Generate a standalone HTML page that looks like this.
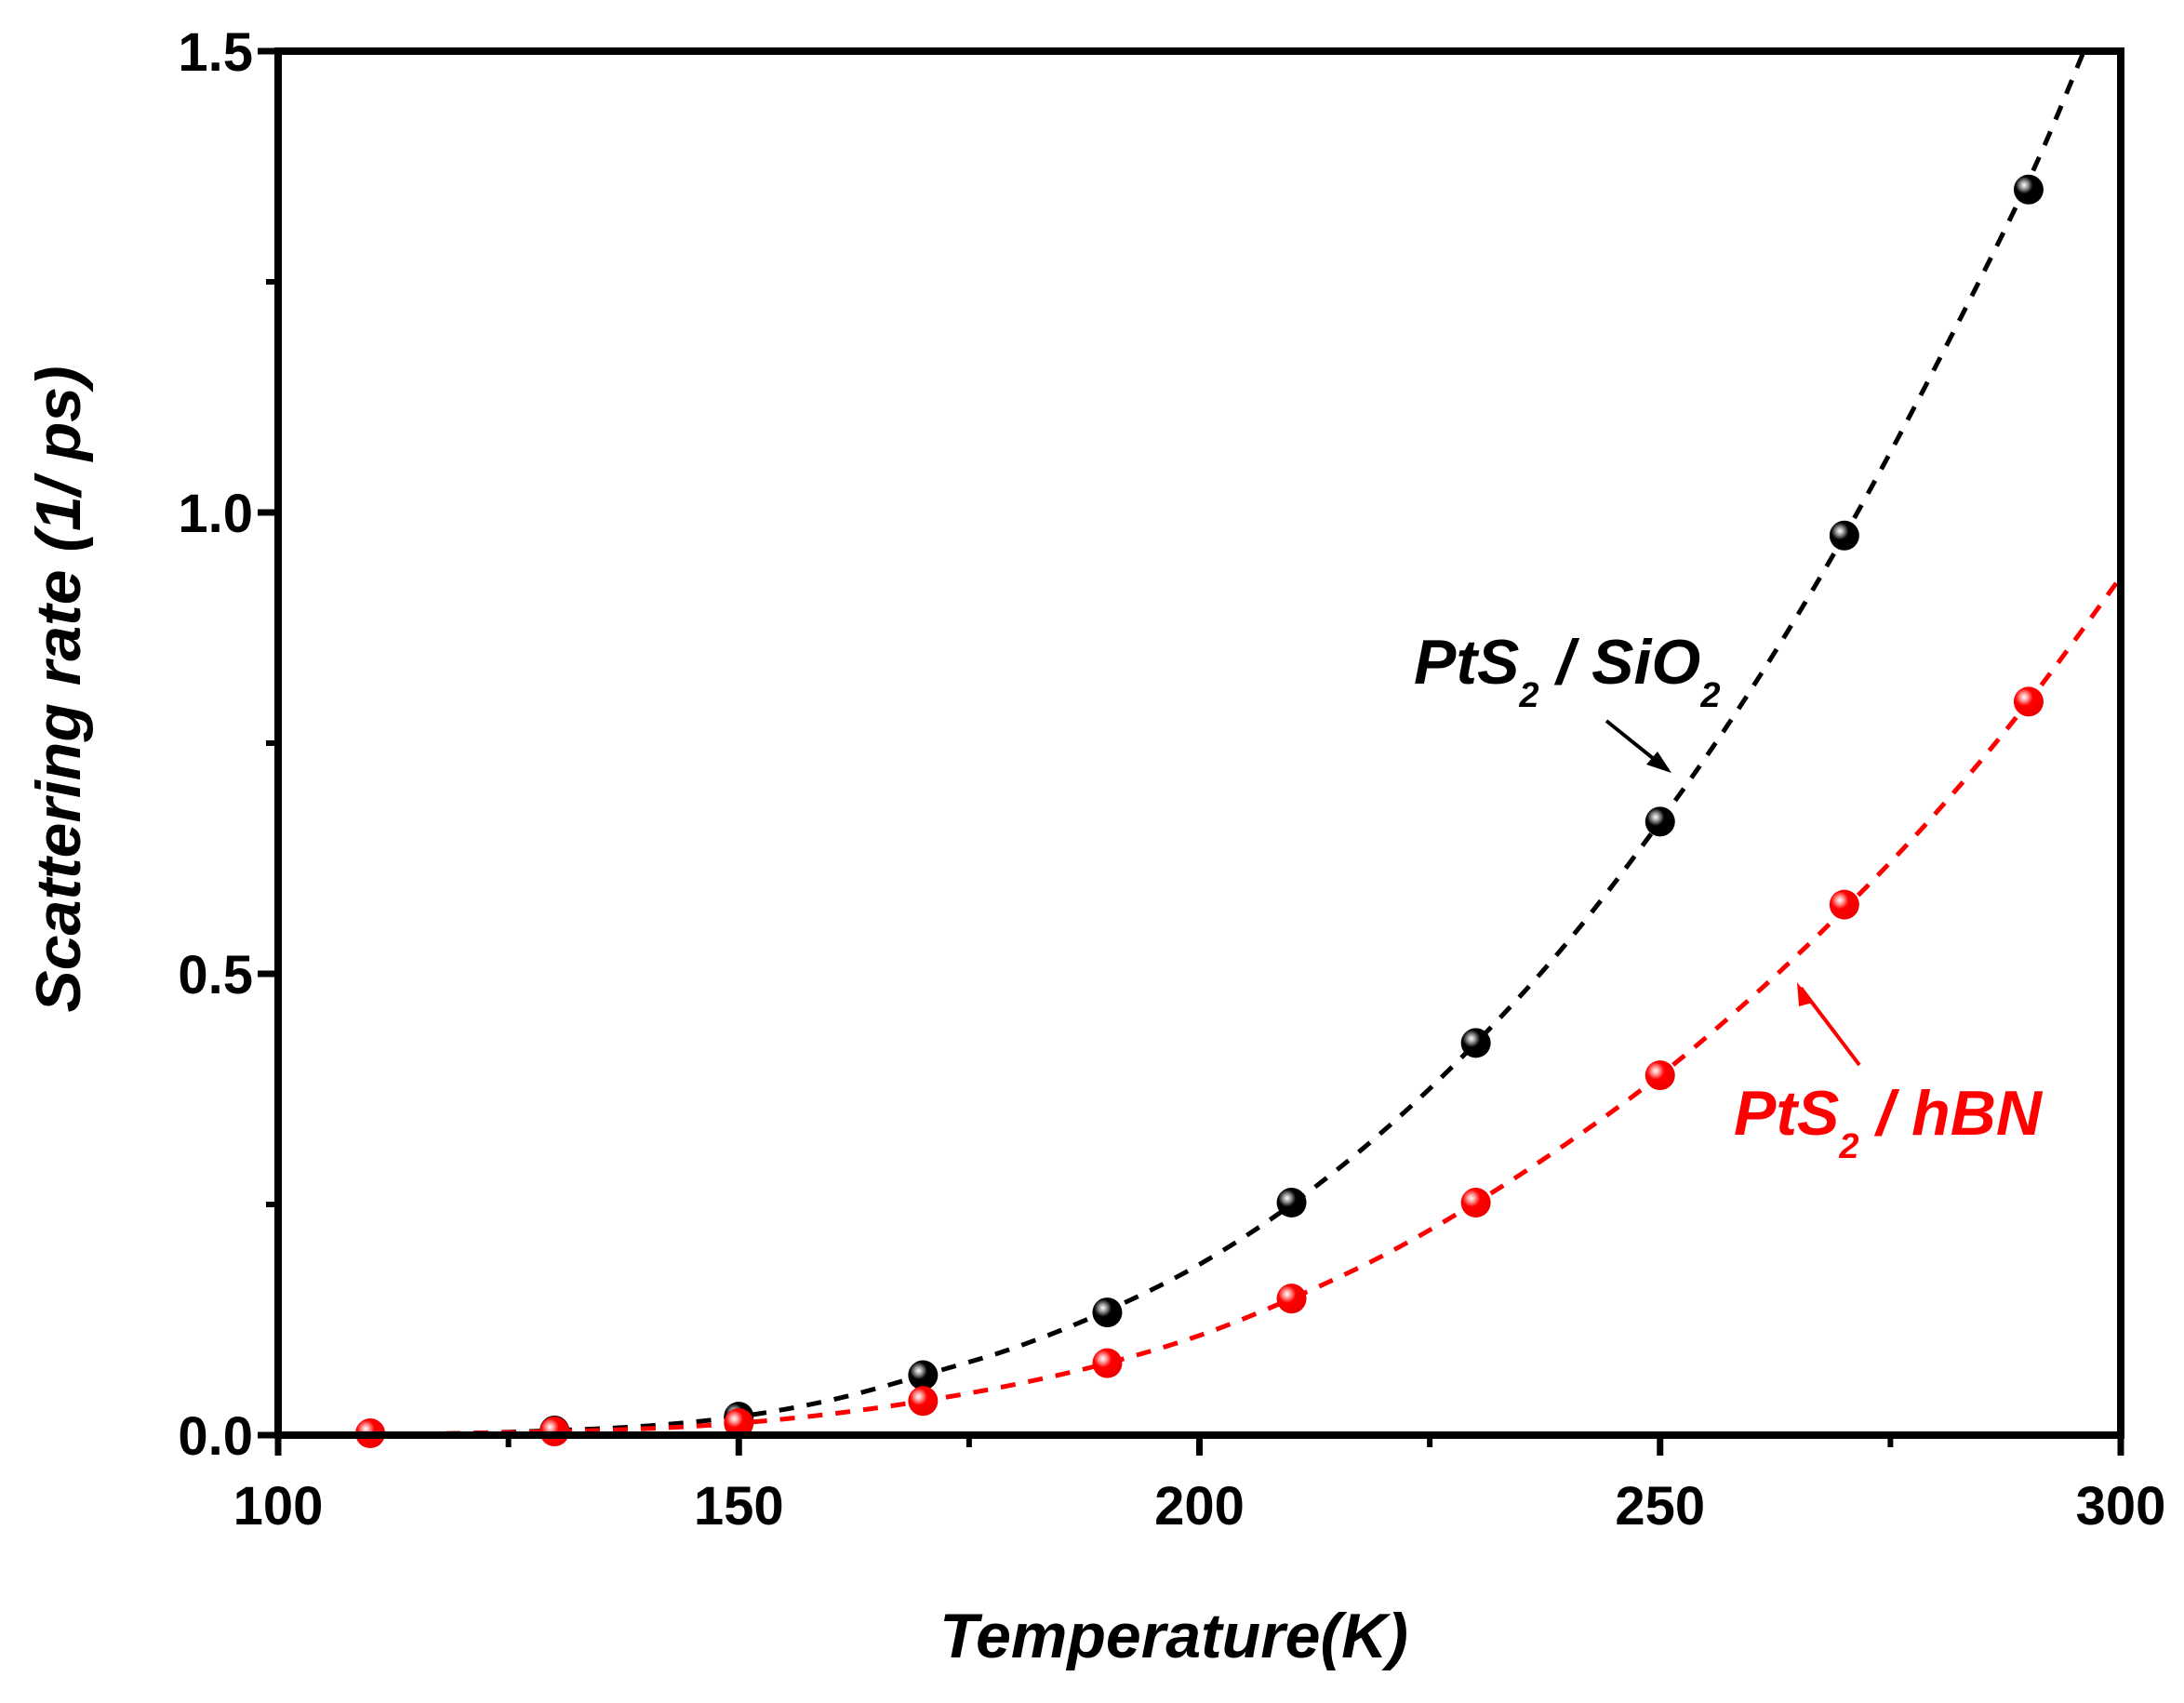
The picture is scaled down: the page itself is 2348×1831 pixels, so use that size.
<!DOCTYPE html>
<html><head><meta charset="utf-8"><style>
html,body{margin:0;padding:0;background:#fff;}
svg{display:block;font-family:"Liberation Sans",Arial,sans-serif;}
</style></head><body>
<svg id="chart" width="2348" height="1831" viewBox="0 0 2348 1831" xmlns="http://www.w3.org/2000/svg">
<defs>
<radialGradient id="gBlack" cx="0.35" cy="0.35" r="0.65"><stop offset="0" stop-color="#fff"/><stop offset="0.2" stop-color="#999"/><stop offset="0.45" stop-color="#000"/><stop offset="1" stop-color="#000"/></radialGradient>
<radialGradient id="gRed" cx="0.35" cy="0.35" r="0.65"><stop offset="0" stop-color="#fff"/><stop offset="0.2" stop-color="#f99"/><stop offset="0.45" stop-color="#f00"/><stop offset="1" stop-color="#e00"/></radialGradient>
</defs>
<g id="fits"></g>
<g id="points"></g>
<g id="axes"></g>
<text x="0" y="0" transform="translate(86,741) rotate(-90)" text-anchor="middle" font-size="68" font-weight="bold" font-style="italic">Scattering rate (1/ ps)</text>
<text x="1262" y="1782" text-anchor="middle" font-size="68" font-weight="bold" font-style="italic">Temperature(K)</text>
<text x="1520" y="735" font-size="68" font-weight="bold" font-style="italic" fill="#000">PtS<tspan font-size="38" dy="25">2</tspan><tspan dy="-25"> / SiO</tspan><tspan font-size="38" dy="25">2</tspan></text>
<line x1="1727" y1="775" x2="1793" y2="828" stroke="#000" stroke-width="4"/>
<path d="M1797,831 L1770,822 L1782,808 z" fill="#000"/>
<text x="1864" y="1220" font-size="68" font-weight="bold" font-style="italic" fill="#f00">PtS<tspan font-size="38" dy="25">2</tspan><tspan dy="-25"> / hBN</tspan></text>
<line x1="1999" y1="1145" x2="1936" y2="1062" stroke="#f00" stroke-width="4"/>
<path d="M1932,1056 L1949,1078 L1934,1082 z" fill="#f00"/>
</svg>
<script>
const xTicks = [100, 150, 200, 250, 300];
const yTicks = [0.0, 0.5, 1.0, 1.5];
const yTickLabels = ["0.0", "0.5", "1.0", "1.5"];
const tempData = [110, 130, 150, 170, 190, 210, 230, 250, 270, 290];
const sio2Temps = [130, 150, 170, 190, 210, 230, 250, 270, 290];
const sio2Rates = [0.005, 0.02, 0.065, 0.133, 0.252, 0.425, 0.665, 0.975, 1.35];
const hbnRates = [0.002, 0.004, 0.013, 0.037, 0.078, 0.148, 0.252, 0.39, 0.575, 0.795];
const sio2FitT = [100,110,120,130,140,150,160,170,180,190,200,210,220,230,240,250,260,270,280,290,296];
const sio2FitV = [0,0.0005,0.002,0.005,0.01,0.02,0.038,0.065,0.095,0.135,0.185,0.25,0.33,0.425,0.535,0.665,0.81,0.975,1.16,1.36,1.5];
const hbnFitT = [100,110,120,130,140,150,160,170,180,190,200,210,220,230,240,250,260,270,280,290,300];
const hbnFitV = [0,0.0005,0.002,0.004,0.007,0.013,0.023,0.037,0.055,0.078,0.108,0.148,0.195,0.252,0.317,0.39,0.475,0.57,0.675,0.795,0.93];

const X0=299, X1=2280, Y0=1543, Y1=55;
const xMin=100, xMax=300, yMin=0, yMax=1.5;
function xs(v){return X0+(v-xMin)/(xMax-xMin)*(X1-X0);}
function ys(v){return Y0-(v-yMin)/(yMax-yMin)*(Y0-Y1);}
const NS="http://www.w3.org/2000/svg";
function mk(tag,attrs,parent){const e=document.createElementNS(NS,tag);for(const k in attrs)e.setAttribute(k,attrs[k]);parent.appendChild(e);return e;}

function smoothPath(T,V){
  const p=T.map((t,i)=>[xs(t),ys(V[i])]);
  let d="M"+p[0][0]+","+p[0][1];
  for(let i=0;i<p.length-1;i++){
    const a=p[Math.max(0,i-1)],b=p[i],c=p[i+1],e=p[Math.min(p.length-1,i+2)];
    const c1=[b[0]+(c[0]-a[0])/6,b[1]+(c[1]-a[1])/6];
    const c2=[c[0]-(e[0]-b[0])/6,c[1]-(e[1]-b[1])/6];
    d+=" C"+c1[0]+","+c1[1]+" "+c2[0]+","+c2[1]+" "+c[0]+","+c[1];
  }
  return d;
}
const fits=document.getElementById('fits');
const f1=mk('path',{d:smoothPath(sio2FitT,sio2FitV),fill:'none',stroke:'#000','stroke-width':5,'stroke-dasharray':'16 14'},fits);


const f2=mk('path',{d:smoothPath(hbnFitT,hbnFitV),fill:'none',stroke:'#f00','stroke-width':5,'stroke-dasharray':'16 14'},fits);



const pts=document.getElementById('points');
sio2Temps.forEach((t,i)=>{
  const c=mk('circle',{cx:xs(t),cy:ys(sio2Rates[i]),r:16,fill:'url(#gBlack)'},pts);
  
  
});
tempData.forEach((t,i)=>{
  const c=mk('circle',{cx:xs(t),cy:ys(hbnRates[i]),r:16,fill:'url(#gRed)'},pts);
  
  
});

const ax=document.getElementById('axes');
const fr=mk('rect',{x:X0,y:Y1,width:X1-X0,height:Y0-Y1,fill:'none',stroke:'#000','stroke-width':8},ax);


xTicks.forEach((v,i)=>{
  const l=mk('line',{x1:xs(v),x2:xs(v),y1:Y0,y2:Y0+22,stroke:'#000','stroke-width':7},ax);
  
  
  if(i<xTicks.length-1){
    const m=mk('line',{x1:xs(v+25),x2:xs(v+25),y1:Y0,y2:Y0+13,stroke:'#000','stroke-width':6},ax);
    
    
  }
  const t=mk('text',{x:xs(v),y:Y0+96,'text-anchor':'middle','font-size':58,'font-weight':'bold'},ax);
  t.textContent=String(v);
  
  
});
yTicks.forEach((v,i)=>{
  const l=mk('line',{x1:X0-22,x2:X0,y1:ys(v),y2:ys(v),stroke:'#000','stroke-width':7},ax);
  
  
  if(i<yTicks.length-1){
    const m=mk('line',{x1:X0-13,x2:X0,y1:ys(v+0.25),y2:ys(v+0.25),stroke:'#000','stroke-width':6},ax);
    
    
  }
  const t=mk('text',{x:X0-27,y:ys(v)+21,'text-anchor':'end','font-size':58,'font-weight':'bold'},ax);
  t.textContent=yTickLabels[i];
  
  
});
</script>
</body></html>
